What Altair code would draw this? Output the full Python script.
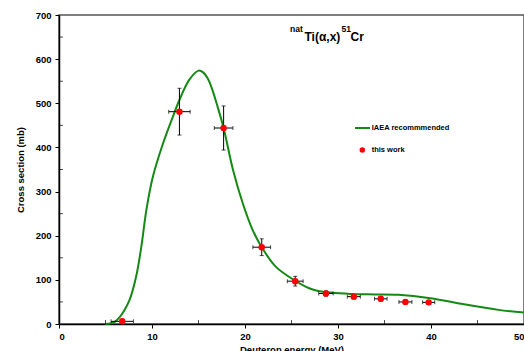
import altair as alt
import pandas as pd

# measured data ("this work")
energy = [6.8, 12.95, 17.7, 21.8, 25.4, 28.7, 31.7, 34.6, 37.25, 39.75]
xsec = [6, 481, 444, 174, 97, 69, 62, 57, 50, 49]
xsec_err = [3, 53, 50, 19, 11, 6, 5, 5, 4, 4]
energy_err = [1.2, 1.15, 1.0, 0.95, 0.85, 0.77, 0.7, 0.68, 0.7, 0.65]

# IAEA recommended curve
curve_e = [5.0, 5.5, 6.0, 6.5, 7.0, 7.6, 8.3, 8.86, 9.4, 10.1, 11.2, 12.25, 12.96,
           14.0, 15.0, 15.5, 16.0, 16.5, 17.0, 17.7, 18.7, 19.75, 20.8, 21.8, 23.3, 25.4,
           26.9, 28.0, 31.5, 34.0, 36.5, 39.75, 43.7, 47.25, 50.0]
curve_xs = [0, 1, 5, 15, 30, 55, 108, 176, 259, 334, 410, 470, 508,
            553, 574, 570, 556, 530, 496, 444, 350, 274, 214, 174, 130, 98,
            81, 74, 68, 67, 66, 59, 44, 32, 26]

x_ticks = [0, 10, 20, 30, 40, 50]
y_ticks = [0, 100, 200, 300, 400, 500, 600, 700]
x_minor = [5, 15, 25, 35, 45]
y_minor = [50, 150, 250, 350, 450, 550, 650]

W, H = 465, 309
FONT = "Liberation Sans"

pts = pd.DataFrame({
    "E": energy, "S": xsec,
    "Elo": [e - d for e, d in zip(energy, energy_err)],
    "Ehi": [e + d for e, d in zip(energy, energy_err)],
    "Slo": [s - d for s, d in zip(xsec, xsec_err)],
    "Shi": [s + d for s, d in zip(xsec, xsec_err)],
})
curve = pd.DataFrame({"E": curve_e, "S": curve_xs})

xscale = alt.Scale(domain=[0, 50], nice=False, zero=False)
yscale = alt.Scale(domain=[0, 700], nice=False, zero=False)

X = alt.X("E:Q", scale=xscale, axis=alt.Axis(
    values=x_ticks, title="Deuteron energy (MeV)", tickSize=4,
    labelPadding=3, titlePadding=4))
Y = alt.Y("S:Q", scale=yscale, axis=alt.Axis(
    values=y_ticks, title="Cross section (mb)", tickSize=4,
    labelPadding=4, titlePadding=10))

line = alt.Chart(curve).mark_line(color="#138a13", strokeWidth=2,
                                  interpolate="catmull-rom").encode(x=X, y=Y)

base = alt.Chart(pts)
xbar = base.mark_rule(color="black", strokeWidth=1).encode(
    x=alt.X("Elo:Q", scale=xscale), x2="Ehi:Q", y=alt.Y("S:Q", scale=yscale))
ybar = base.mark_rule(color="black", strokeWidth=1).encode(
    x=alt.X("E:Q", scale=xscale), y=alt.Y("Slo:Q", scale=yscale), y2="Shi:Q")
xcap_lo = base.mark_tick(orient="vertical", color="black", size=4, thickness=1).encode(
    x=alt.X("Elo:Q", scale=xscale), y=alt.Y("S:Q", scale=yscale))
xcap_hi = base.mark_tick(orient="vertical", color="black", size=4, thickness=1).encode(
    x=alt.X("Ehi:Q", scale=xscale), y=alt.Y("S:Q", scale=yscale))
ycap_lo = base.mark_tick(orient="horizontal", color="black", size=4, thickness=1).encode(
    x=alt.X("E:Q", scale=xscale), y=alt.Y("Slo:Q", scale=yscale))
ycap_hi = base.mark_tick(orient="horizontal", color="black", size=4, thickness=1).encode(
    x=alt.X("E:Q", scale=xscale), y=alt.Y("Shi:Q", scale=yscale))
dots = base.mark_circle(color="#ff0000", opacity=1, size=42).encode(
    x=alt.X("E:Q", scale=xscale), y=alt.Y("S:Q", scale=yscale))

minor_x = alt.Chart(pd.DataFrame({"E": x_minor})).mark_tick(
    orient="vertical", color="black", size=4, thickness=1).encode(
    x=alt.X("E:Q", scale=xscale), y=alt.value(H - 2))
minor_y = alt.Chart(pd.DataFrame({"S": y_minor})).mark_tick(
    orient="horizontal", color="black", size=4, thickness=1).encode(
    y=alt.Y("S:Q", scale=yscale), x=alt.value(2))

def txt(t, x, y, size, baseline="alphabetic"):
    return alt.Chart(pd.DataFrame({"t": [t]})).mark_text(
        font=FONT, fontWeight="bold", fontSize=size, align="left",
        baseline=baseline, color="black").encode(
        text="t:N", x=alt.value(x), y=alt.value(y))

title = (txt("nat", 231, 17, 8.5) + txt("Ti(\u03b1,x)", 245.5, 25.5, 12)
         + txt("51", 282.5, 17, 8.5) + txt("Cr", 291.5, 25.5, 12))

leg_line = alt.Chart(pd.DataFrame({"a": [0]})).mark_rule(
    color="#138a13", strokeWidth=2).encode(
    x=alt.value(296), x2=alt.value(311), y=alt.value(113))
leg_dot = alt.Chart(pd.DataFrame({"a": [0]})).mark_circle(
    color="#ff0000", opacity=1, size=30).encode(x=alt.value(303.3), y=alt.value(135))
legend = (leg_line + txt("IAEA recommmended", 312.7, 113, 7.5, "middle")
          + leg_dot + txt("this work", 312.7, 135, 7.5, "middle"))

chart = alt.layer(
    line, xbar, ybar, xcap_lo, xcap_hi, ycap_lo, ycap_hi, dots,
    minor_x, minor_y, title, legend
).properties(
    width=W, height=H,
    autosize=alt.AutoSizeParams(type="none"),
    padding={"left": 59, "top": 15, "right": 0, "bottom": 27},
).configure_view(
    stroke="#555555", strokeWidth=1.5
).configure_axis(
    grid=False, labelFont=FONT, titleFont=FONT, labelFontWeight="bold",
    titleFontWeight="bold", labelFontSize=9.5, titleFontSize=9.5,
    labelColor="black", titleColor="black", domainColor="black",
    domainWidth=1.5, tickColor="black", tickWidth=1
)

chart.save("out.html", embed_options={"renderer": "svg", "actions": False})
